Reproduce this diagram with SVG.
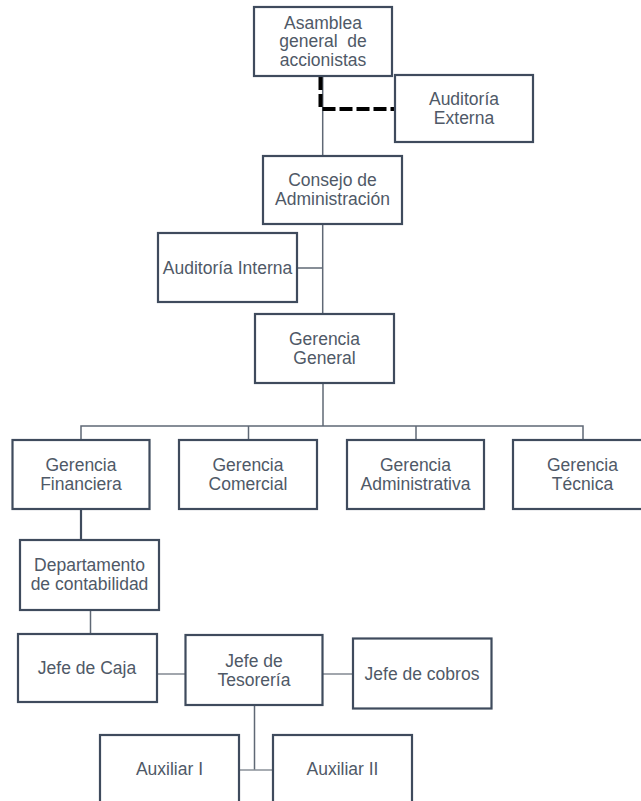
<svg xmlns="http://www.w3.org/2000/svg" width="641" height="801" viewBox="0 0 641 801">
<style>
.box{fill:#fff;stroke:#3f4b5d;stroke-width:2.2}
.t{font-family:"Liberation Sans",Arial,sans-serif;font-size:17.5px;fill:#4f5967;text-anchor:middle;white-space:pre}
.c{fill:none;stroke:#5f6875;stroke-width:1.5}
.cl{fill:none;stroke:#8a9099;stroke-width:1.6}
.dash{fill:none;stroke:#000;stroke-width:4;stroke-dasharray:13 4}
</style>
<rect width="641" height="801" fill="#fff"/>
<g id="connectors">
<line class="c" x1="322.7" y1="76" x2="322.7" y2="156"/>
<path class="dash" d="M320.5,77 V109 H395"/>
<line class="c" x1="322.7" y1="224" x2="322.7" y2="314"/>
<line class="c" x1="297" y1="268" x2="322.7" y2="268"/>
<line class="c" x1="323" y1="383" x2="323" y2="426"/>
<path class="c" d="M81,440 V426 H583 V440"/>
<line class="c" x1="248.5" y1="426" x2="248.5" y2="440"/>
<line class="c" x1="416" y1="426" x2="416" y2="440"/>
<line class="c" x1="81" y1="509" x2="81" y2="540" style="stroke:#3f4b5d;stroke-width:2.2"/>
<line class="c" x1="90.5" y1="610" x2="90.5" y2="634"/>
<line class="cl" x1="157" y1="674" x2="185" y2="674"/>
<line class="cl" x1="323" y1="674" x2="353" y2="674"/>
<line class="c" x1="254.5" y1="705" x2="254.5" y2="770"/>
<line class="cl" x1="239" y1="770" x2="273" y2="770"/>
</g>
<g id="asamblea"><rect class="box" x="254" y="7" width="138" height="69"/>
<text class="t" x="323" y="28.5">Asamblea</text><text class="t" x="323" y="47">general  de</text><text class="t" x="323" y="66">accionistas</text></g>
<g id="auditoria-externa"><rect class="box" x="395" y="75" width="138" height="67"/>
<text class="t" x="464" y="104.5">Auditoría</text><text class="t" x="464" y="123.5">Externa</text></g>
<g id="consejo"><rect class="box" x="263" y="156" width="139" height="68"/>
<text class="t" x="332.5" y="186">Consejo de</text><text class="t" x="332.5" y="205">Administración</text></g>
<g id="auditoria-interna"><rect class="box" x="158" y="233" width="139" height="69"/>
<text class="t" x="227.5" y="273.5">Auditoría Interna</text></g>
<g id="gerencia-general"><rect class="box" x="255" y="314" width="139" height="69"/>
<text class="t" x="324.5" y="345">Gerencia</text><text class="t" x="324.5" y="363.5">General</text></g>
<g id="gerencia-financiera"><rect class="box" x="12.5" y="440" width="137" height="69"/>
<text class="t" x="81" y="471">Gerencia</text><text class="t" x="81" y="490">Financiera</text></g>
<g id="gerencia-comercial"><rect class="box" x="179" y="440" width="138" height="69"/>
<text class="t" x="248" y="471">Gerencia</text><text class="t" x="248" y="490">Comercial</text></g>
<g id="gerencia-administrativa"><rect class="box" x="347" y="440" width="137" height="69"/>
<text class="t" x="415.5" y="471">Gerencia</text><text class="t" x="415.5" y="490">Administrativa</text></g>
<g id="gerencia-tecnica"><rect class="box" x="513" y="440" width="139" height="69"/>
<text class="t" x="582.5" y="471">Gerencia</text><text class="t" x="582.5" y="490">Técnica</text></g>
<g id="departamento-contabilidad"><rect class="box" x="20" y="540" width="139" height="70"/>
<text class="t" x="89.5" y="571">Departamento</text><text class="t" x="89.5" y="590">de contabilidad</text></g>
<g id="jefe-caja"><rect class="box" x="18" y="634" width="139" height="68"/>
<text class="t" x="87" y="673.5">Jefe de Caja</text></g>
<g id="jefe-tesoreria"><rect class="box" x="185.5" y="635" width="137" height="70"/>
<text class="t" x="254" y="667">Jefe de</text><text class="t" x="254" y="685.5">Tesorería</text></g>
<g id="jefe-cobros"><rect class="box" x="353" y="638.5" width="138.5" height="70"/>
<text class="t" x="422" y="679.5">Jefe de cobros</text></g>
<g id="auxiliar-1"><rect class="box" x="100" y="735" width="139" height="80"/>
<text class="t" x="169.5" y="774.5">Auxiliar I</text></g>
<g id="auxiliar-2"><rect class="box" x="273" y="735" width="139" height="80"/>
<text class="t" x="342.5" y="774.5">Auxiliar II</text></g>
</svg>
